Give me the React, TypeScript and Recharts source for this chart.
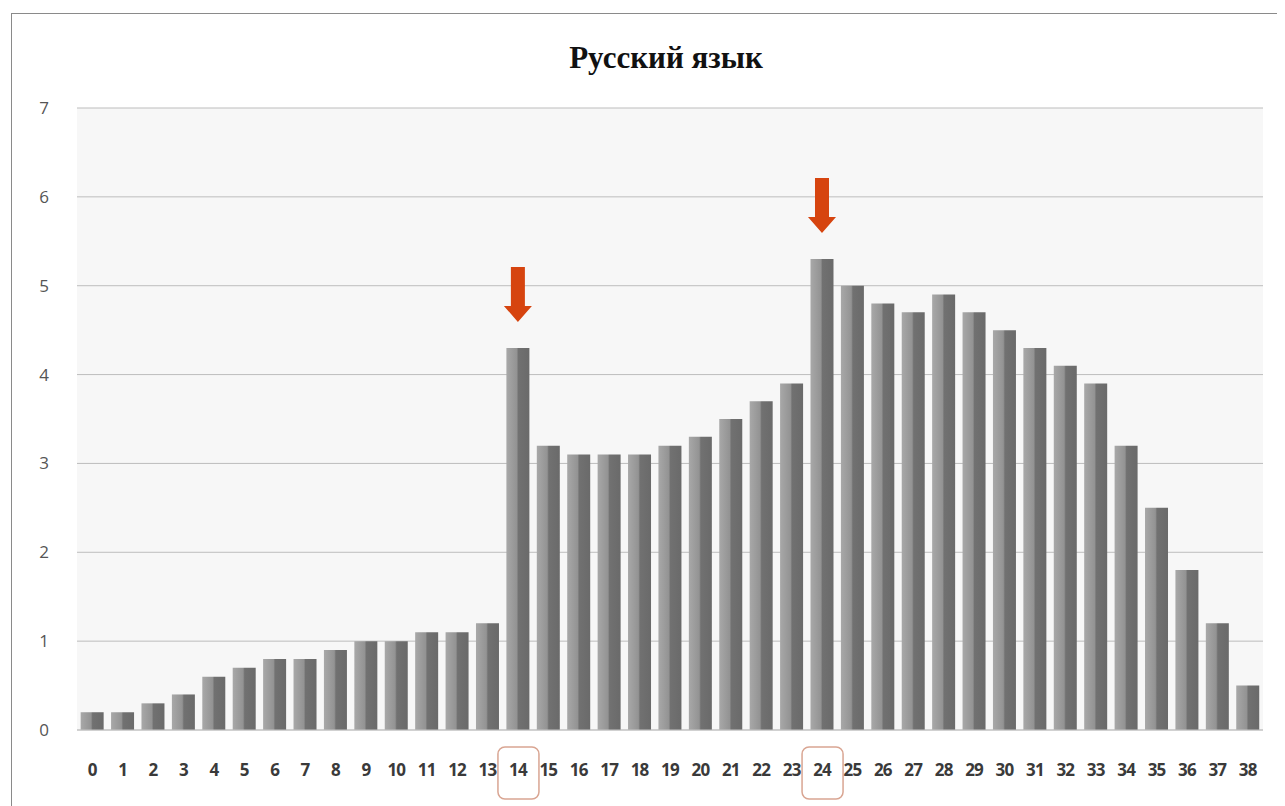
import { BarChart, Bar, XAxis, YAxis, CartesianGrid, LabelList } from "recharts";

const scores = ["0","1","2","3","4","5","6","7","8","9","10","11","12","13","14","15","16","17","18","19","20","21","22","23","24","25","26","27","28","29","30","31","32","33","34","35","36","37","38"];
const shares = [0.2,0.2,0.3,0.4,0.6,0.7,0.8,0.8,0.9,1.0,1.0,1.1,1.1,1.2,4.3,3.2,3.1,3.1,3.1,3.2,3.3,3.5,3.7,3.9,5.3,5.0,4.8,4.7,4.9,4.7,4.5,4.3,4.1,3.9,3.2,2.5,1.8,1.2,0.5];
const yTicks = [0,1,2,3,4,5,6,7];
const marked = ["14","24"];

const data = scores.map((s, i) => ({ score: s, share: shares[i] }));

const ScoreTick = (props: any) => {
  const { x, y, payload } = props;
  const hit = marked.includes(payload.value);
  return (
    <g>
      {hit && (
        <rect x={x - 20} y={y + 15} width={41} height={52} rx={7}
          fill="none" stroke="#d9a592" strokeWidth={1.5} />
      )}
      <text x={x} y={y + 44} textAnchor="middle" fontSize={17} fontWeight={700}
        letterSpacing={-0.8} fontFamily="Open Sans, sans-serif" fill="#3a3a3a">{payload.value}</text>
    </g>
  );
};

const Arrow = (props: any) => {
  const { x, y, width, index } = props;
  if (!marked.includes(scores[index])) return null;
  const cx = x + width / 2;
  const tip = y - 26;
  return (
    <path
      d={`M${cx - 7},${tip - 55} L${cx + 7},${tip - 55} L${cx + 7},${tip - 16} L${cx + 14},${tip - 16} L${cx},${tip} L${cx - 14},${tip - 16} L${cx - 7},${tip - 16} Z`}
      fill="#d6440f"
    />
  );
};

export default function App() {
  return (
    <div style={{ position: "relative", left: -8, top: -8, width: 1285, height: 806, background: "#fff" }}>
      <div style={{ position: "absolute", left: 11, top: 13, width: 1270, height: 800, border: "1.5px solid #8a8a8a" }} />
      <div style={{ position: "absolute", left: 0, top: 40, width: 1332, textAlign: "center",
        fontFamily: "Liberation Serif, serif", fontWeight: 700, fontSize: 31, color: "#111" }}>
        Русский язык
      </div>
      <BarChart width={1285} height={806} data={data} barCategoryGap="12%"
        margin={{ top: 108, right: 22, bottom: 46, left: 0 }}>
        <defs>
          <linearGradient id="barShade" x1="0" y1="0" x2="1" y2="0">
            <stop offset="0%" stopColor="#a8a8a8" />
            <stop offset="45%" stopColor="#939393" />
            <stop offset="52%" stopColor="#717171" />
            <stop offset="100%" stopColor="#6a6a6a" />
          </linearGradient>
        </defs>
        <CartesianGrid vertical={false} stroke="#bdbdbd" fill="#f7f7f7" />
        <XAxis dataKey="score" interval={0} tickLine={false} tickSize={0} height={30}
          axisLine={{ stroke: "#c4c4c4" }} tick={<ScoreTick />} />
        <YAxis domain={[0, 7]} ticks={yTicks} width={77} axisLine={false} tickLine={false}
          tickSize={0} tickMargin={28}
          tick={{ fontSize: 17, fill: "#555", fontFamily: "Open Sans, sans-serif" }} />
        <Bar dataKey="share" fill="url(#barShade)" isAnimationActive={false}>
          <LabelList dataKey="share" content={<Arrow />} />
        </Bar>
      </BarChart>
    </div>
  );
}
